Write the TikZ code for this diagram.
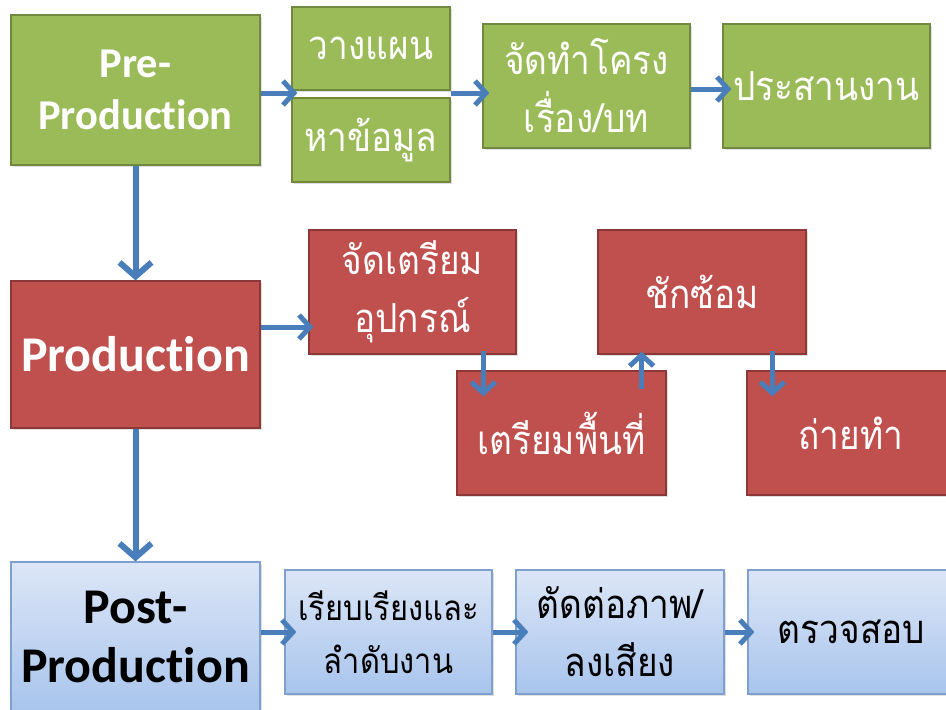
\documentclass[tikz,border=0pt]{standalone}
\usepackage{fontspec}
\newfontfamily\thai[Script=Thai,FakeStretch=0.88]{Loma}
\newfontfamily\carlito[RawFeature=-liga]{Carlito}
\usetikzlibrary{arrows.meta,shadows,calc}
\definecolor{grfill}{HTML}{9BBB59}
\definecolor{grdraw}{HTML}{71893F}
\definecolor{rdfill}{HTML}{C0504D}
\definecolor{rddraw}{HTML}{8C3836}
\definecolor{bltop}{HTML}{DCE6F7}
\definecolor{blbot}{HTML}{A8C4EC}
\definecolor{bldraw}{HTML}{7F9FCC}
\definecolor{arrowblue}{HTML}{4A7EBB}
\begin{document}
\begin{tikzpicture}[x=1pt,y=-1pt,
  box/.style={line width=1.2pt, inner sep=0pt, align=center,
    drop shadow={shadow xshift=2pt,shadow yshift=-2pt,opacity=0.25}},
  gbox/.style={box, fill=grfill, draw=grdraw, text=white},
  rbox/.style={box, fill=rdfill, draw=rddraw, text=white},
  bbox/.style={box, top color=bltop, bottom color=blbot, draw=bldraw, text=black},
  engA/.style={font=\carlito\bfseries\fontsize{42.5}{52}\selectfont},
  engB/.style={font=\carlito\bfseries\fontsize{50}{59}\selectfont},
  thaiA/.style={font=\thai\fontsize{40}{58}\selectfont},
  thaiB/.style={font=\thai\fontsize{35}{53}\selectfont},
  arr/.style={draw=arrowblue, line width=5pt, -{Straight Barb[length=11pt,width=24pt]}},
  bigarr/.style={draw=arrowblue, line width=6pt, -{Straight Barb[length=14pt,width=32pt]}}
]
\fill[white] (0,0) rectangle (946,710);
\useasboundingbox (0,0) rectangle (946,710);

% green row
\node[gbox, engA, minimum width=249pt, minimum height=150pt] (pre) at (135.5,90) {Pre-\\Production};
\node[gbox, thaiA, minimum width=158pt, minimum height=83pt] (plan) at (371,48.5) {วางแผน};
\node[gbox, thaiA, minimum width=158pt, minimum height=84pt] (data) at (371,140) {หาข้อมูล};
\node[gbox, thaiA, minimum width=207pt, minimum height=124pt] (script) at (586.5,86) {จัดทำโครง\\เรื่อง/บท};
\node[gbox, thaiA, minimum width=207pt, minimum height=124pt] (coord) at (826.5,86) {ประสานงาน};

% red row
\node[rbox, engB, minimum width=249pt, minimum height=147pt] (prod) at (135.5,354.5) {Production};
\node[rbox, thaiA, minimum width=207pt, minimum height=124pt] (equip) at (412.5,292) {จัดเตรียม\\อุปกรณ์};
\node[rbox, thaiA, minimum width=208pt, minimum height=124pt] (rehearse) at (702,292) {ชักซ้อม};
\node[rbox, thaiA, minimum width=209pt, minimum height=124pt] (site) at (561.5,433) {เตรียมพื้นที่};
\node[rbox, thaiA, minimum width=208pt, minimum height=124pt] (shoot) at (851,433) {ถ่ายทำ};

% blue row
\node[bbox, engB, minimum width=249pt, minimum height=150pt] (post) at (135.5,637) {Post-\\Production};
\node[bbox, thaiB, minimum width=207pt, minimum height=124pt] (arrange) at (388.5,632) {เรียบเรียงและ\\ลำดับงาน};
\node[bbox, thaiA, minimum width=208pt, minimum height=124pt] (edit) at (620,632) {ตัดต่อภาพ/\\ลงเสียง};
\node[bbox, thaiA, minimum width=207pt, minimum height=124pt] (check) at (851.5,632) {ตรวจสอบ};

% helper coordinates
\coordinate (j1) at ($(plan.south west)!0.5!(data.north west)$);
\coordinate (j2) at ($(plan.south east)!0.5!(data.north east)$);
\coordinate (a2) at ([yshift=-35pt]equip.west);
\coordinate (b1) at ([xshift=27pt]site.north west);
\coordinate (c1) at ([xshift=-25pt]site.north east);
\coordinate (d1) at ([xshift=26pt]shoot.north west);

% arrows
\draw[bigarr] (pre.south) -- (prod.north);
\draw[bigarr] (prod.south) -- (post.north);
\draw[arr] ([yshift=1pt]pre.east |- j1) -- ([xshift=6pt,yshift=1pt]j1);
\draw[arr] ([yshift=1pt]j2) -- ([xshift=7pt,yshift=1pt]script.west |- j2);
\draw[arr] ([yshift=-3pt]script.east) -- ([xshift=9pt,yshift=-3pt]coord.west);
\draw[arr] (prod.east |- a2) -- ([xshift=5pt]a2);
\draw[arr] ([yshift=4pt]equip.south -| b1) -- ([yshift=-26pt]b1);
\draw[arr] ([yshift=-19pt]c1) -- ([yshift=3pt]rehearse.south -| c1);
\draw[arr] ([yshift=4pt]rehearse.south -| d1) -- ([yshift=-26pt]d1);
\draw[arr] (post.east |- arrange.west) -- ([xshift=12pt]arrange.west);
\draw[arr] (arrange.east) -- ([xshift=13pt]edit.west);
\draw[arr] (edit.east) -- ([xshift=7pt]check.west);
\end{tikzpicture}
\end{document}
